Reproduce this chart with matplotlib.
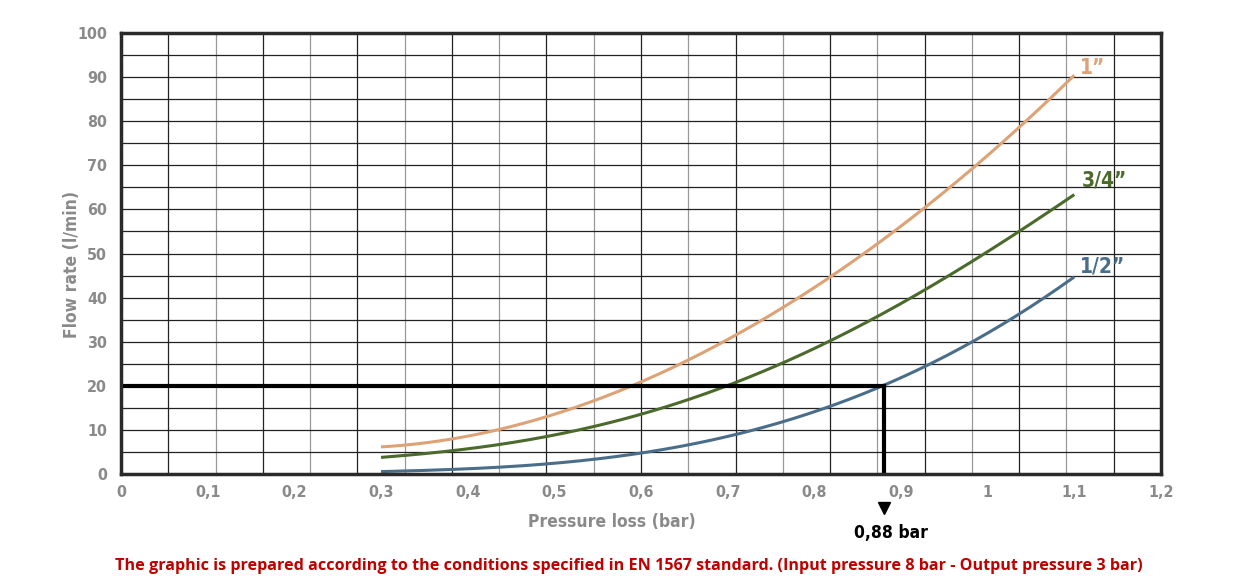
import matplotlib
matplotlib.use("Agg")
import matplotlib.pyplot as plt
import numpy as np

# Data
pressure = [0.3, 0.382, 0.436, 0.491, 0.545, 0.595, 0.654, 0.708, 0.763, 0.818, 0.872, 0.927, 0.981, 1.036, 1.1]
flow_1in = [6.2, 7.9, 10.1, 12.9, 16.4, 20.6, 25.9, 31.5, 37.9, 44.7, 51.5, 60.0, 69.0, 79.5, 90.0]
flow_34in = [3.6, 5.4, 7.1, 8.6, 10.4, 12.9, 16.4, 21.0, 25.5, 30.4, 35.7, 41.7, 47.6, 55.0, 63.5]
flow_12in = [0.5, 1.1, 1.6, 2.2, 3.3, 4.7, 6.6, 8.6, 12.0, 15.2, 19.5, 24.7, 29.8, 35.8, 44.9]
series_labels = ["1\u201d", "3/4\u201d", "1/2\u201d"]
series_colors = ["#DDA275", "#4B6A2C", "#4A6E8A"]
ref_pressure = 0.88
ref_flow = 20
xtick_vals = [0, 0.1, 0.2, 0.3, 0.4, 0.5, 0.6, 0.7, 0.8, 0.9, 1.0, 1.1, 1.2]
xtick_labels = ["0", "0,1", "0,2", "0,3", "0,4", "0,5", "0,6", "0,7", "0,8", "0,9", "1", "1,1", "1,2"]
ytick_vals = list(range(0, 101, 10))

narrow = dict(family="DejaVu Sans", stretch="condensed")

fig = plt.figure(figsize=(12.39, 5.85), dpi=100)
ax = fig.add_axes([121/1239, 1-474/585, 1040/1239, 441/585])
ax.set_xlim(0, 1.2)
ax.set_ylim(0, 100)

# grid
for i in range(1, 22):
    xv = 1.2 * i / 22
    ax.axvline(xv, color="#222222" if i % 2 else "#999999", lw=0.9, zorder=1)
for yv in range(5, 100, 5):
    ax.axhline(yv, color="#222222", lw=0.9, zorder=1)

xs = np.array(pressure)
for ys, col in zip([flow_1in, flow_34in, flow_12in], series_colors):
    c = np.polyfit(xs, np.array(ys), 4)
    xx = np.linspace(xs[0], xs[-1], 300)
    ax.plot(xx, np.polyval(c, xx), color=col, lw=2.2, zorder=3, solid_capstyle="butt")

# reference lines
ax.plot([0, ref_pressure], [ref_flow, ref_flow], color="black", lw=3, zorder=4)
ax.plot([ref_pressure, ref_pressure], [0, ref_flow], color="black", lw=3, zorder=4)

# series labels
label_pos = [(1.107, 92), (1.109, 66.5), (1.107, 47)]
for lab, col, (lx, ly) in zip(series_labels, series_colors, label_pos):
    ax.text(lx, ly, lab, color=col, fontsize=15, fontweight="bold", ha="left", va="center", **narrow)

for s in ax.spines.values():
    s.set_linewidth(2.5)
    s.set_color("#2a2a2a")
    s.set_zorder(5)

ax.set_xticks(xtick_vals)
ax.set_xticklabels(xtick_labels)
ax.set_yticks(ytick_vals)
ax.tick_params(length=0, labelsize=11.5, labelcolor="#8a8a8a")
ax.tick_params(axis="x", pad=8)
ax.tick_params(axis="y", pad=10)
for t in ax.get_xticklabels() + ax.get_yticklabels():
    t.set_family("DejaVu Sans")
    t.set_stretch("condensed")
    t.set_fontweight("bold")

fig.text(612/1239, 1-522/585, "Pressure loss (bar)", color="#8a8a8a", fontsize=12.5,
         fontweight="bold", ha="center", va="center", **narrow)
fig.text(72/1239, 1-264/585, "Flow rate (l/min)", color="#8a8a8a", fontsize=12.5,
         fontweight="bold", ha="center", va="center", rotation=90, **narrow)

# marker + value text
ax.plot([ref_pressure], [-7.8], marker="v", color="black", markersize=9, clip_on=False)
fig.text(891/1239, 1-533/585, "0,88 bar", color="black", fontsize=12.5, fontweight="bold",
         ha="center", va="center", **narrow)

fig.text(629/1239, 1-566/585,
         "The graphic is prepared according to the conditions specified in EN 1567 standard. (Input pressure 8 bar - Output pressure 3 bar)",
         color="#C00000", fontsize=11.6, fontweight="bold", family=["Open Sans", "DejaVu Sans"],
         ha="center", va="center")

fig.savefig("out.png", dpi=100)
